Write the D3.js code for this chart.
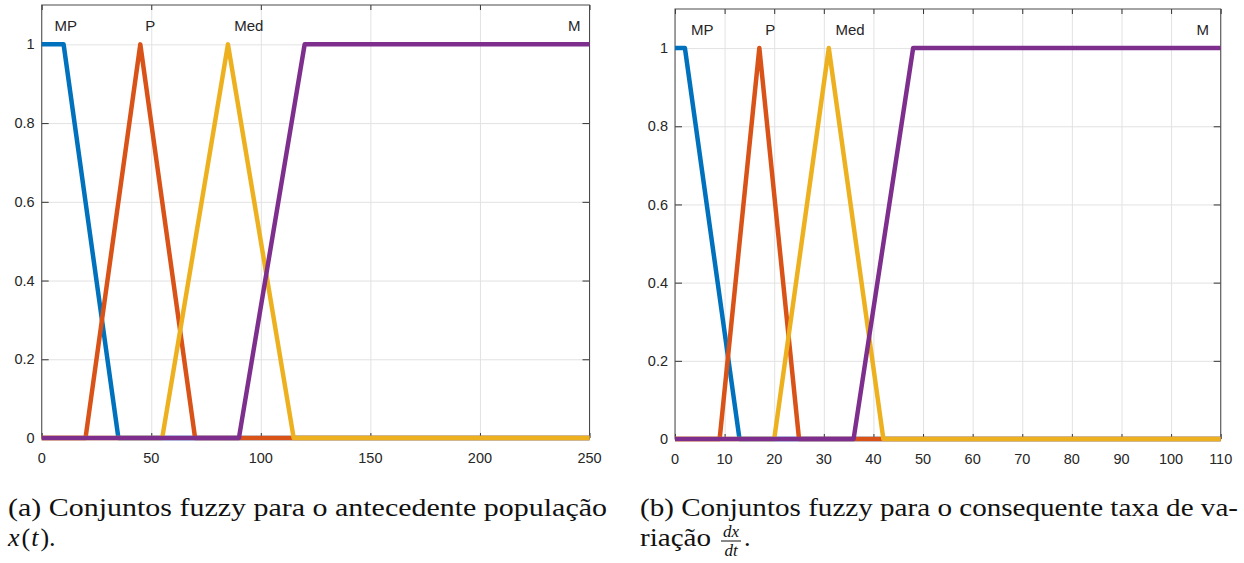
<!DOCTYPE html>
<html>
<head>
<meta charset="utf-8">
<script src="https://cdn.jsdelivr.net/npm/d3@7"></script>
<style>
  html, body { margin: 0; padding: 0; background: #fff; }
  svg { display: block; }
</style>
</head>
<body>
<svg id="fig" width="1244" height="563"></svg>
<script>
// Fuzzy set names, shared by both panels
const setNames = ["MP", "P", "Med", "M"];

// Panel (a): antecedent "população", universe 0..250
const popXTicks = [0, 50, 100, 150, 200, 250];
const popMP_x  = [0, 10, 35, 250];        const popMP_y  = [1, 1, 0, 0];
const popP_x   = [0, 20, 45, 70, 250];    const popP_y   = [0, 0, 1, 0, 0];
const popMed_x = [0, 55, 85, 115, 250];   const popMed_y = [0, 0, 1, 0, 0];
const popM_x   = [0, 90, 120, 250];       const popM_y   = [0, 0, 1, 1];
const popLabelX = [11, 49.5, 94.5, 243];

// Panel (b): consequent "taxa de variação", universe 0..110
const rateXTicks = [0, 10, 20, 30, 40, 50, 60, 70, 80, 90, 100, 110];
const rateMP_x  = [0, 2, 13, 110];        const rateMP_y  = [1, 1, 0, 0];
const rateP_x   = [0, 9, 17, 25, 110];    const rateP_y   = [0, 0, 1, 0, 0];
const rateMed_x = [0, 20, 31, 42, 110];   const rateMed_y = [0, 0, 1, 0, 0];
const rateM_x   = [0, 36, 48, 110];       const rateM_y   = [0, 0, 1, 1];
const rateLabelX = [5.5, 19.2, 35.3, 106.4];

// Membership axis
const yTicks = [0, 0.2, 0.4, 0.6, 0.8, 1];
const yTickLabels = ["0", "0.2", "0.4", "0.6", "0.8", "1"];

// Line colours (MATLAB default order)
const palette = ["#0072BD", "#D95319", "#EDB120", "#7E2F8E"];

const zip = (xs, ys) => xs.map((x, i) => [x, ys[i]]);

const panels = [
  {
    left: 41.7, right: 589.5, top: 5, bottom: 438,
    xMax: 250, xTicks: popXTicks, labelX: popLabelX,
    sets: [zip(popMP_x, popMP_y), zip(popP_x, popP_y), zip(popMed_x, popMed_y), zip(popM_x, popM_y)]
  },
  {
    left: 675, right: 1220.7, top: 9, bottom: 439,
    xMax: 110, xTicks: rateXTicks, labelX: rateLabelX,
    sets: [zip(rateMP_x, rateMP_y), zip(rateP_x, rateP_y), zip(rateMed_x, rateMed_y), zip(rateM_x, rateM_y)]
  }
];

const svg = d3.select("#fig");
svg.append("rect").attr("width", 1244).attr("height", 563).attr("fill", "#fff");

const axisFont = "'Liberation Sans', Arial, sans-serif";
const textColor = "#262626";

panels.forEach(p => {
  const x = d3.scaleLinear().domain([0, p.xMax]).range([p.left, p.right]);
  const y = d3.scaleLinear().domain([0, 1.1]).range([p.bottom, p.top]);
  const w = p.right - p.left, h = p.bottom - p.top;
  const g = svg.append("g");

  // grid
  g.append("g").attr("transform", `translate(0,${p.bottom})`)
    .call(d3.axisBottom(x).tickValues(p.xTicks).tickSize(-h).tickFormat(""))
    .call(s => s.select(".domain").remove())
    .call(s => s.selectAll("line").attr("stroke", "#e2e2e2").attr("stroke-width", 1));
  g.append("g").attr("transform", `translate(${p.left},0)`)
    .call(d3.axisLeft(y).tickValues(yTicks).tickSize(-w).tickFormat(""))
    .call(s => s.select(".domain").remove())
    .call(s => s.selectAll("line").attr("stroke", "#e2e2e2").attr("stroke-width", 1));

  // inward ticks on all four sides
  const tickLen = 5;
  const styleTicks = s => {
    s.select(".domain").remove();
    s.selectAll("line").attr("stroke", "#333").attr("stroke-width", 1);
  };
  g.append("g").attr("transform", `translate(0,${p.bottom})`)
    .call(d3.axisBottom(x).tickValues(p.xTicks).tickSize(-tickLen).tickFormat("")).call(styleTicks);
  g.append("g").attr("transform", `translate(0,${p.top})`)
    .call(d3.axisTop(x).tickValues(p.xTicks).tickSize(-tickLen).tickFormat("")).call(styleTicks);
  g.append("g").attr("transform", `translate(${p.left},0)`)
    .call(d3.axisLeft(y).tickValues(yTicks).tickSize(-7).tickFormat("")).call(styleTicks);
  g.append("g").attr("transform", `translate(${p.right},0)`)
    .call(d3.axisRight(y).tickValues(yTicks).tickSize(-7).tickFormat("")).call(styleTicks);

  // tick labels
  g.append("g").selectAll("text").data(p.xTicks).join("text")
    .attr("x", d => x(d)).attr("y", p.bottom + 25)
    .attr("text-anchor", "middle")
    .attr("font-family", axisFont).attr("font-size", 14.5).attr("fill", textColor)
    .text(d => d);
  g.append("g").selectAll("text").data(yTicks).join("text")
    .attr("x", p.left - 7).attr("y", d => y(d)).attr("dy", "0.35em")
    .attr("text-anchor", "end")
    .attr("font-family", axisFont).attr("font-size", 14.5).attr("fill", textColor)
    .text((d, i) => yTickLabels[i]);

  // axes box
  g.append("rect")
    .attr("x", p.left).attr("y", p.top).attr("width", w).attr("height", h)
    .attr("fill", "none").attr("stroke", "#4a4a4a").attr("stroke-width", 1);

  // membership functions
  const line = d3.line().x(d => x(d[0])).y(d => y(d[1]));
  p.sets.forEach((pts, i) => {
    g.append("path").attr("d", line(pts))
      .attr("fill", "none").attr("stroke", palette[i])
      .attr("stroke-width", 4.5).attr("stroke-linejoin", "round").attr("stroke-linecap", "butt");
  });

  // set names
  g.append("g").selectAll("text").data(setNames).join("text")
    .attr("x", (d, i) => x(p.labelX[i])).attr("y", y(1.047)).attr("dy", "0.35em")
    .attr("text-anchor", "middle")
    .attr("font-family", axisFont).attr("font-size", 15).attr("fill", textColor)
    .text(d => d);
});

// captions
const capFont = "'Liberation Serif', 'Times New Roman', serif";
const cap = svg.append("g").attr("font-family", capFont).attr("font-size", 26).attr("fill", "#111");

cap.append("text").attr("x", 8).attr("y", 516)
  .attr("textLength", 599).attr("lengthAdjust", "spacingAndGlyphs")
  .text("(a) Conjuntos fuzzy para o antecedente população");
const l2 = cap.append("text").attr("x", 8).attr("y", 546);
l2.append("tspan").attr("font-style", "italic").text("x");
l2.append("tspan").attr("dx", 2).text("(");
l2.append("tspan").attr("dx", 1).attr("font-style", "italic").text("t");
l2.append("tspan").attr("dx", 2).text(").");

cap.append("text").attr("x", 640).attr("y", 516)
  .attr("textLength", 598).attr("lengthAdjust", "spacingAndGlyphs")
  .text("(b) Conjuntos fuzzy para o consequente taxa de va-");
cap.append("text").attr("x", 640).attr("y", 546)
  .attr("textLength", 71).attr("lengthAdjust", "spacingAndGlyphs")
  .text("riação");
// fraction dx/dt
const fx = 731;
cap.append("text").attr("x", fx).attr("y", 537).attr("text-anchor", "middle")
  .attr("font-size", 17).attr("font-style", "italic").text("dx");
cap.append("line").attr("x1", fx - 10).attr("x2", fx + 10).attr("y1", 541).attr("y2", 541)
  .attr("stroke", "#111").attr("stroke-width", 1);
cap.append("text").attr("x", fx).attr("y", 556).attr("text-anchor", "middle")
  .attr("font-size", 17).attr("font-style", "italic").text("dt");
cap.append("text").attr("x", fx + 13).attr("y", 546).text(".");
</script>
</body>
</html>
